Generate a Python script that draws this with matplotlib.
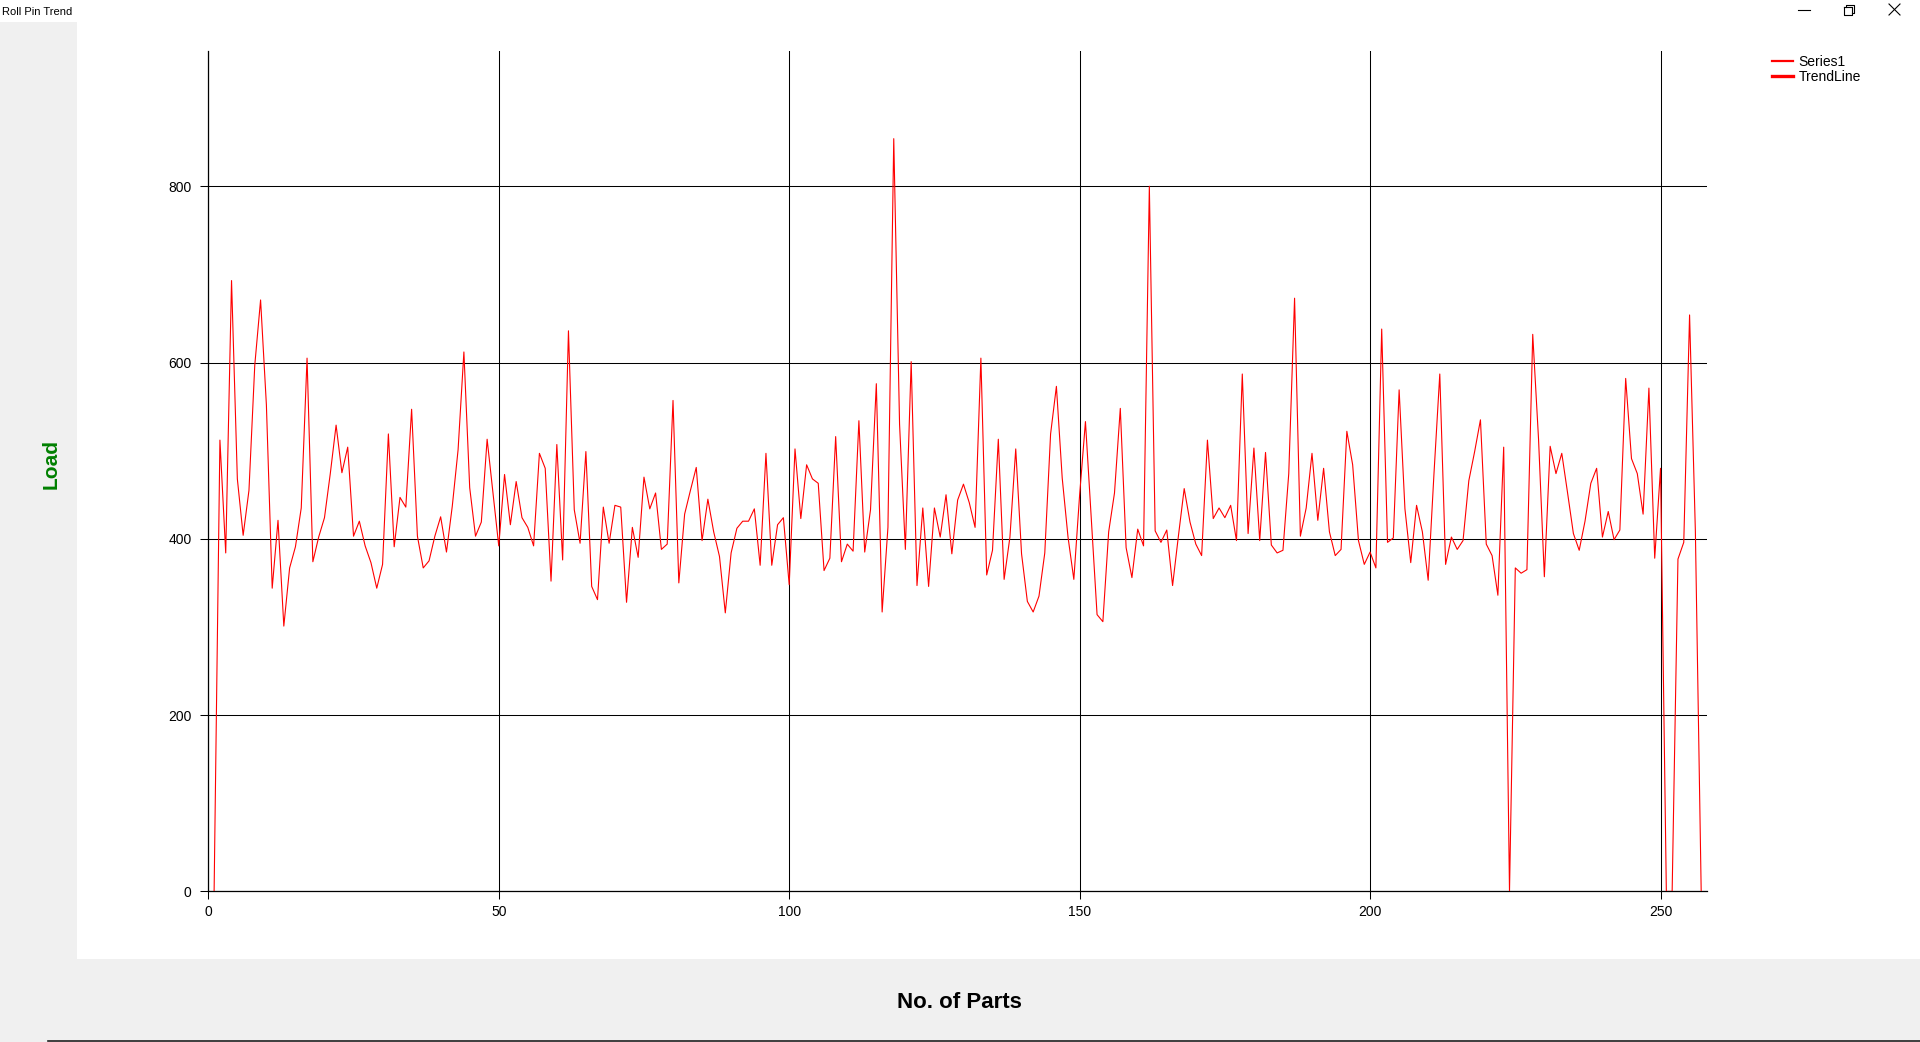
import matplotlib
matplotlib.use("Agg")
import matplotlib.pyplot as plt
from matplotlib.lines import Line2D
from matplotlib.patches import Rectangle

plt.rcParams['font.family'] = ['Liberation Sans', 'DejaVu Sans']

# ---------------- data ----------------
parts = list(range(1, 258))
load = [
    0, 512, 384, 693, 468, 404, 455, 597, 671, 552,
    344, 421, 301, 367, 391, 435, 605, 374, 402, 424,
    474, 529, 475, 504, 403, 420, 392, 373, 344, 371,
    519, 391, 447, 436, 547, 403, 367, 375, 403, 425,
    385, 437, 501, 612, 458, 403, 419, 513, 452, 392,
    473, 416, 465, 424, 413, 392, 497, 480, 352, 507,
    376, 636, 433, 395, 499, 346, 331, 436, 395, 438,
    436, 328, 413, 379, 470, 434, 452, 388, 394, 557,
    350, 428, 455, 481, 398, 445, 408, 380, 316, 384,
    412, 420, 420, 434, 370, 497, 370, 416, 424, 348,
    502, 423, 484, 468, 463, 364, 378, 516, 374, 394,
    386, 534, 385, 433, 576, 317, 413, 854, 530, 388,
    601, 347, 435, 346, 435, 402, 450, 383, 444, 462,
    441, 413, 605, 359, 387, 513, 354, 402, 502, 383,
    329, 317, 335, 384, 519, 573, 469, 402, 354, 450,
    533, 424, 314, 306, 408, 452, 548, 390, 356, 411,
    392, 800, 409, 396, 410, 347, 403, 457, 419, 394,
    381, 512, 423, 435, 424, 438, 398, 587, 406, 503,
    398, 498, 393, 384, 387, 474, 673, 403, 435, 497,
    421, 480, 408, 381, 388, 522, 484, 398, 371, 385,
    367, 638, 396, 401, 569, 434, 373, 438, 408, 353,
    474, 587, 371, 402, 388, 398, 466, 499, 535, 394,
    381, 336, 504, 0, 367, 361, 365, 632, 513, 357,
    505, 474, 497, 452, 406, 387, 420, 463, 480, 402,
    431, 399, 410, 582, 491, 474, 428, 571, 378, 480,
    0, 0, 377, 396, 654, 408, 0,
]
x_ticks = [0, 50, 100, 150, 200, 250]
y_ticks = [0, 200, 400, 600, 800]
series_names = ["Series1", "TrendLine"]
title_text = "Roll Pin Trend"
x_label = "No. of Parts"
y_label = "Load"

W, H = 1920, 1042
def fx(px):
    return px / W
def fy(py):
    return 1 - py / H

fig = plt.figure(figsize=(W / 100, H / 100), dpi=100, facecolor="white")

# window background panels
grey = "#F0F0F0"
fig.patches.append(Rectangle((0, fy(959)), fx(77), fy(22) - fy(959),
                             transform=fig.transFigure, facecolor=grey, edgecolor="none", zorder=0))
fig.patches.append(Rectangle((0, 0), 1, fy(959), transform=fig.transFigure,
                             facecolor=grey, edgecolor="none", zorder=0))
fig.lines.append(Line2D([fx(48), 1], [fy(1040.5), fy(1040.5)], transform=fig.transFigure,
                        color="#202020", lw=1.2))

# title bar
fig.text(fx(2), fy(12), title_text, fontsize=8, ha="left", va="center", color="black")
# window controls
lw_c = 0.8
fig.lines.append(Line2D([fx(1798), fx(1810)], [fy(10), fy(10)], transform=fig.transFigure, color="black", lw=lw_c))
fig.lines.append(Line2D([fx(1844), fx(1852), fx(1852), fx(1844), fx(1844)],
                        [fy(7), fy(7), fy(15), fy(15), fy(7)], transform=fig.transFigure, color="black", lw=lw_c))
fig.lines.append(Line2D([fx(1846), fx(1846), fx(1854), fx(1854), fx(1852)],
                        [fy(7), fy(5), fy(5), fy(13), fy(13)], transform=fig.transFigure, color="black", lw=lw_c))
fig.lines.append(Line2D([fx(1889), fx(1900)], [fy(4), fy(15)], transform=fig.transFigure, color="black", lw=lw_c))
fig.lines.append(Line2D([fx(1889), fx(1900)], [fy(15), fy(4)], transform=fig.transFigure, color="black", lw=lw_c))

# plot area
left, right, top, bottom = 208.3, 1707, 51.4, 891.4
ax = fig.add_axes([fx(left), fy(bottom), fx(right) - fx(left), fy(top) - fy(bottom)])
ax.set_facecolor("white")
ax.plot(parts, load, color="#FF0000", lw=0.8, zorder=3)

ax.set_xlim(0, 258)
ax.set_ylim(0, 953)
ax.set_xticks(x_ticks)
ax.set_yticks(y_ticks)
ax.grid(True, color="black", lw=0.75)
ax.set_axisbelow(True)
for s in ["top", "right"]:
    ax.spines[s].set_visible(False)
for s in ["left", "bottom"]:
    ax.spines[s].set_linewidth(0.9)
    ax.spines[s].set_color("black")
ax.tick_params(axis="both", length=6, width=0.75, color="black", labelsize=10)
ax.tick_params(axis="y", pad=6)
ax.tick_params(axis="x", pad=4)

# legend
handles = [Line2D([], [], color="#FF0000", lw=1.6), Line2D([], [], color="#FF0000", lw=2.4)]
fig.legend(handles, series_names, loc="upper left", bbox_to_anchor=(fx(1772), fy(55)),
           frameon=False, fontsize=10, handlelength=1.5, handletextpad=0.4,
           labelspacing=0.05, borderpad=0, borderaxespad=0)

# axis titles
fig.text(fx(51), fy(464), y_label, rotation=90, color="#008000", fontweight="bold",
         fontsize=15, ha="center", va="center")
fig.text(fx(959), fy(1002), x_label, color="black", fontweight="bold",
         fontsize=16, ha="center", va="center")

fig.savefig("out.png", dpi=100, facecolor=fig.get_facecolor())
